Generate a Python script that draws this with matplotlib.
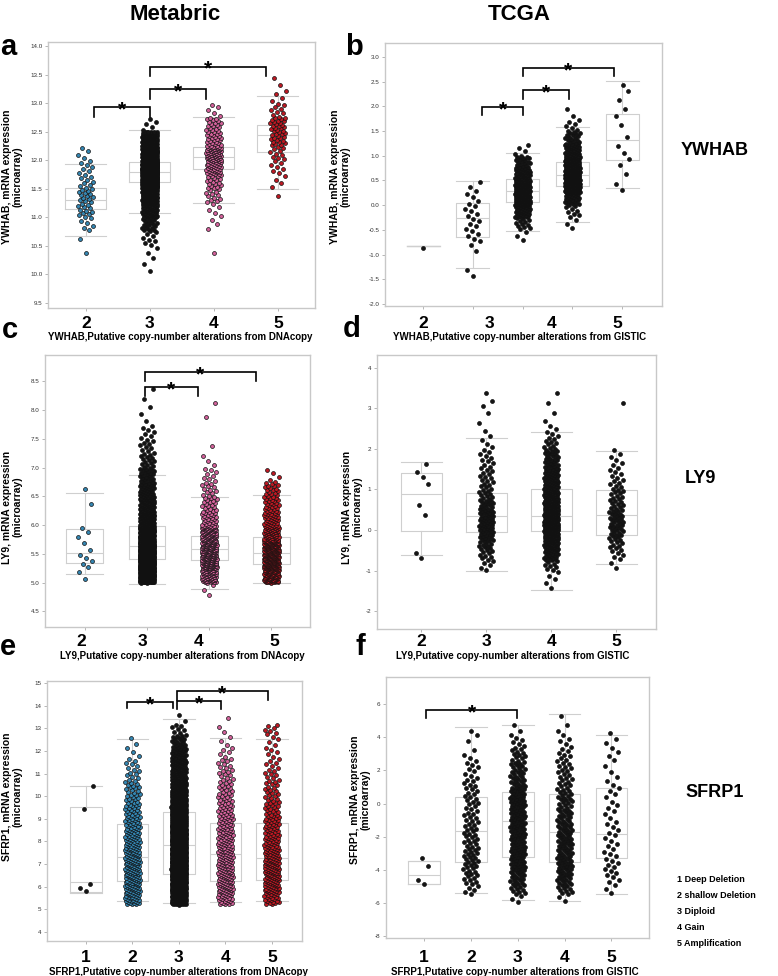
import numpy as np
import matplotlib
matplotlib.use("Agg")
import matplotlib.pyplot as plt
from matplotlib.transforms import blended_transform_factory

plt.rcParams['font.family'] = ['Liberation Sans', 'DejaVu Sans']

W, H = 778, 976

# ---------------------------------------------------------------------------
# Data.
# Box stats per group: lower whisker, Q1, median, Q3, upper whisker.
# Point counts per value bin (bin edges per panel).
# ---------------------------------------------------------------------------

# a) YWHAB - Metabric (DNAcopy)
a_groups = [2, 3, 4, 5]
a_lo = [10.68, 11.08, 11.25, 11.49]
a_q1 = [11.15, 11.62, 11.84, 12.15]
a_med = [11.30, 11.80, 12.05, 12.44]
a_q3 = [11.52, 11.97, 12.23, 12.62]
a_hi = [11.94, 12.52, 12.75, 13.13]
a_edges = np.arange(10.0, 13.51, 0.25)
a_n2 = [0, 1, 1, 6, 12, 14, 9, 7, 4, 0, 0, 0, 0, 0]
a_n3 = [2, 3, 8, 20, 50, 100, 240, 320, 150, 90, 5, 0, 0, 0]
a_n4 = [0, 1, 0, 3, 5, 12, 18, 40, 55, 25, 18, 5, 0, 0]
a_n5 = [0, 0, 0, 0, 0, 1, 4, 7, 10, 18, 20, 9, 4, 2]

# b) YWHAB - TCGA (GISTIC)
b_groups = [1, 2, 3, 4, 5]
b_lo = [-0.83, -1.28, -0.52, -0.35, 0.35]
b_q1 = [-0.83, -0.64, 0.06, 0.39, 0.91]
b_med = [-0.83, -0.27, 0.29, 0.61, 1.31]
b_q3 = [-0.83, 0.04, 0.53, 0.88, 1.85]
b_hi = [-0.83, 0.48, 1.06, 1.58, 2.52]
b_edges = np.arange(-1.5, 2.76, 0.25)
b_n1 = [0, 0, 1, 0, 0, 0, 0, 0, 0, 0, 0, 0, 0, 0, 0, 0, 0]
b_n2 = [2, 0, 2, 5, 5, 5, 4, 3, 0, 0, 0, 0, 0, 0, 0, 0, 0]
b_n3 = [0, 0, 0, 3, 12, 35, 65, 70, 45, 20, 4, 0, 0, 0, 0, 0, 0]
b_n4 = [0, 0, 0, 0, 3, 8, 25, 85, 95, 60, 35, 18, 6, 2, 0, 0, 0]
b_n5 = [0, 0, 0, 0, 0, 0, 0, 2, 1, 2, 2, 1, 1, 2, 1, 2, 0]

# c) LY9 - Metabric (DNAcopy)
c_groups = [2, 3, 4, 5]
c_lo = [5.16, 4.98, 4.89, 5.00]
c_q1 = [5.34, 5.41, 5.40, 5.33]
c_med = [5.52, 5.64, 5.58, 5.52]
c_q3 = [5.93, 5.98, 5.82, 5.80]
c_hi = [6.56, 6.87, 6.49, 6.52]
c_edges = np.arange(4.75, 8.51, 0.25)
c_n2 = [0, 2, 5, 2, 3, 0, 1, 1, 0, 0, 0, 0, 0, 0, 0]
c_n3 = [0, 160, 190, 170, 120, 70, 50, 35, 25, 14, 10, 7, 2, 2, 1]
c_n4 = [3, 60, 95, 90, 70, 28, 18, 12, 8, 3, 1, 0, 1, 1, 0]
c_n5 = [0, 85, 120, 110, 55, 35, 25, 18, 4, 0, 0, 0, 0, 0, 0]

# d) LY9 - TCGA (GISTIC)
d_groups = [2, 3, 4, 5]
d_lo = [-0.61, -1.00, -1.48, -0.84]
d_q1 = [-0.03, -0.06, -0.03, -0.13]
d_med = [0.88, 0.35, 0.35, 0.37]
d_q3 = [1.40, 0.92, 1.01, 0.98]
d_hi = [1.67, 2.27, 2.41, 1.95]
d_edges = np.arange(-1.75, 3.51, 0.25)
d_n2 = [0, 0, 0, 0, 2, 0, 0, 0, 1, 1, 0, 1, 2, 1, 0, 0, 0, 0, 0, 0, 0]
d_n3 = [0, 0, 0, 5, 8, 12, 18, 22, 20, 14, 10, 8, 7, 6, 5, 3, 2, 1, 1, 2, 1]
d_n4 = [0, 2, 3, 8, 20, 35, 45, 60, 50, 45, 38, 30, 25, 18, 14, 8, 5, 2, 1, 1, 1]
d_n5 = [0, 0, 0, 2, 5, 8, 12, 14, 14, 10, 9, 7, 5, 4, 3, 0, 0, 0, 0, 1, 0]

# e) SFRP1 - Metabric (DNAcopy)
e_groups = [1, 2, 3, 4, 5]
e_lo = [5.70, 5.37, 5.26, 5.30, 5.38]
e_q1 = [5.74, 6.26, 6.54, 6.24, 6.29]
e_med = [6.20, 7.31, 7.84, 7.44, 7.25]
e_q3 = [9.52, 8.78, 9.29, 8.80, 8.83]
e_hi = [10.47, 12.53, 13.40, 12.59, 12.52]
e_edges = np.arange(5.2, 13.71, 0.5)
e_n1 = [0, 3, 0, 0, 0, 0, 0, 0, 1, 0, 1, 0, 0, 0, 0, 0, 0]
e_n2 = [30, 35, 35, 35, 32, 28, 25, 22, 18, 14, 12, 8, 6, 3, 2, 0, 0]
e_n3 = [80, 100, 110, 130, 125, 115, 105, 95, 85, 70, 55, 45, 35, 25, 15, 8, 2]
e_n4 = [25, 33, 33, 30, 30, 27, 25, 22, 18, 15, 12, 10, 8, 5, 3, 2, 1]
e_n5 = [22, 32, 35, 35, 30, 25, 22, 20, 15, 12, 10, 8, 6, 5, 4, 7, 0]

# f) SFRP1 - TCGA (GISTIC)
f_groups = [1, 2, 3, 4, 5]
f_lo = [-4.84, -5.39, -5.83, -5.85, -5.43]
f_q1 = [-4.84, -3.50, -3.22, -3.52, -3.26]
f_med = [-4.28, -1.63, -1.07, -1.71, -1.81]
f_q3 = [-3.48, 0.40, 0.70, 0.60, 0.94]
f_hi = [-3.48, 4.59, 4.71, 5.42, 4.15]
f_edges = np.arange(-6.0, 5.51, 0.5)
f_n1 = [0, 0, 2, 0, 1, 1, 0, 0, 0, 0, 0, 0, 0, 0, 0, 0, 0, 0, 0, 0, 0, 0, 0]
f_n2 = [0, 4, 6, 7, 8, 8, 8, 7, 7, 6, 6, 5, 6, 5, 5, 4, 4, 3, 1, 1, 2, 0, 0]
f_n3 = [3, 8, 10, 12, 14, 14, 14, 14, 14, 16, 16, 16, 16, 14, 11, 10, 9, 8, 6, 4, 2, 1, 0]
f_n4 = [2, 8, 10, 12, 14, 13, 12, 12, 12, 11, 10, 9, 9, 8, 7, 6, 6, 5, 4, 3, 2, 1, 1]
f_n5 = [0, 2, 3, 4, 4, 4, 3, 3, 3, 3, 2, 3, 2, 3, 2, 2, 1, 2, 2, 2, 1, 0, 0]

legend_lines = ["1 Deep Deletion", "2 shallow Deletion", "3 Diploid", "4 Gain", "5 Amplification"]

BLUE, BLACK, PINK, RED = '#3486b2', '#141414', '#d2619a', '#bd1822'
BOXC = '#cfcfcf'

fig = plt.figure(figsize=(W / 100, H / 100), dpi=100)
fig.patch.set_facecolor('white')


def fx(x):
    return x / W


def fy(y):
    return 1 - y / H


def spread(counts, edges):
    """Place the counted points evenly inside each value bin."""
    vals = []
    for k, lo, hi in zip(counts, edges[:-1], edges[1:]):
        if k:
            vals.extend(lo + (hi - lo) * (np.arange(k) + 0.5) / k)
    return np.array(vals)


def panel(box_px, xlim, ylim, yticks, fmt, groups, lo, q1, med, q3, hi,
          edges, counts, colors, box_w, jit, brackets):
    L, T, R, B = box_px
    ax = fig.add_axes([fx(L), fy(B), (R - L) / W, (B - T) / H])
    stats = [dict(whislo=w0, q1=a, med=m, q3=b, whishi=w1, fliers=[])
             for w0, a, m, b, w1 in zip(lo, q1, med, q3, hi)]
    lp = dict(color=BOXC, lw=0.8)
    ax.bxp(stats, positions=groups, widths=box_w, capwidths=box_w,
           showfliers=False, boxprops=lp, whiskerprops=lp, capprops=lp,
           medianprops=lp, zorder=1)
    for g, n, c in zip(groups, counts, colors):
        y = spread(n, edges)
        i = np.arange(len(y))
        x = g + jit * (2 * ((0.5 + i * 0.618034) % 1) - 1)
        ax.scatter(x, y, s=8, c=c, edgecolors='#111111', linewidths=0.5, zorder=3)
    for x1, x2, top, bot in brackets:
        ax.plot([x1, x1, x2, x2], [bot, top, top, bot], color='black', lw=1.2,
                zorder=4, solid_joinstyle='miter')
        ax.annotate('*', xy=((x1 + x2) / 2, top), xytext=(0, -6),
                    textcoords='offset points', ha='center', va='baseline',
                    fontsize=15, fontweight='bold')
    ax.set_xlim(*xlim)
    ax.set_ylim(*ylim)
    ax.set_xticks(groups)
    ax.set_xticklabels([])
    ax.set_yticks(yticks)
    ax.set_yticklabels([fmt % t for t in yticks])
    ax.tick_params(length=2.5, width=0.6, color='#aaaaaa', labelsize=4.5,
                   labelcolor='#333333', pad=1.5)
    for s in ax.spines.values():
        s.set_color('#c8c8c8')
        s.set_linewidth(1.0)
    return ax


def xlabels(ax, xs, labels, ypx):
    tr = blended_transform_factory(ax.transData, fig.transFigure)
    for x, t in zip(xs, labels):
        ax.text(x, fy(ypx), t, transform=tr, ha='center', va='center',
                fontsize=12.5, fontweight='bold')


ax_a = panel((48, 42, 315, 308), (1.41, 5.58), (9.41, 14.07), np.arange(9.5, 14.01, 0.5), '%.1f',
             a_groups, a_lo, a_q1, a_med, a_q3, a_hi, a_edges,
             [a_n2, a_n3, a_n4, a_n5], [BLUE, BLACK, PINK, RED], 0.64, 0.12,
             [(2.125, 3.0, 12.93, 12.76), (3.0, 3.87, 13.24, 13.07), (3.0, 4.82, 13.64, 13.47)])
ax_b = panel((385, 43, 662, 306), (0.235, 5.80), (-2.04, 3.28), np.arange(-2.0, 3.01, 0.5), '%.1f',
             b_groups, b_lo, b_q1, b_med, b_q3, b_hi, b_edges,
             [b_n1, b_n2, b_n3, b_n4, b_n5], [BLACK] * 5, 0.66, 0.15,
             [(2.19, 3.0, 1.99, 1.83), (3.0, 3.94, 2.33, 2.15), (3.0, 4.84, 2.78, 2.62)])
ax_c = panel((45, 355, 310, 627), (1.36, 5.62), (4.23, 8.96), np.arange(4.5, 8.51, 0.5), '%.1f',
             c_groups, c_lo, c_q1, c_med, c_q3, c_hi, c_edges,
             [c_n2, c_n3, c_n4, c_n5], [BLUE, BLACK, PINK, RED], 0.59, 0.12,
             [(2.96, 3.82, 8.40, 8.25), (2.96, 4.75, 8.66, 8.50)])
ax_d = panel((377, 355, 656, 629), (1.32, 5.61), (-2.44, 4.31), np.arange(-2, 5), '%d',
             d_groups, d_lo, d_q1, d_med, d_q3, d_hi, d_edges,
             [d_n2, d_n3, d_n4, d_n5], [BLACK] * 4, 0.63, 0.11, [])
ax_e = panel((47, 681, 302, 941), (0.16, 5.65), (3.59, 15.1), np.arange(4, 16), '%d',
             e_groups, e_lo, e_q1, e_med, e_q3, e_hi, e_edges,
             [e_n1, e_n2, e_n3, e_n4, e_n5], [BLACK, BLUE, BLACK, PINK, RED], 0.68, 0.16,
             [(1.89, 2.87, 14.16, 13.92), (2.96, 3.91, 14.23, 13.85), (2.96, 4.91, 14.67, 14.28)])
ax_f = panel((386, 677, 649, 938), (0.19, 5.80), (-8.1, 7.63), np.arange(-8, 7, 2), '%d',
             f_groups, f_lo, f_q1, f_med, f_q3, f_hi, f_edges,
             [f_n1, f_n2, f_n3, f_n4, f_n5], [BLACK] * 5, 0.675, 0.16,
             [(1.04, 2.99, 5.66, 5.15)])

# big category numbers under each panel
xlabels(ax_a, [2, 3, 4, 5], ['2', '3', '4', '5'], 323)
xlabels(ax_b, [1.0, 2.34, 3.59, 4.9], ['2', '3', '4', '5'], 323)
xlabels(ax_c, [1.95, 2.93, 3.83, 5.04], ['2', '3', '4', '5'], 641)
xlabels(ax_d, [2, 3, 4, 5], ['2', '3', '4', '5'], 641)
xlabels(ax_e, [1, 2, 3, 4, 5], ['1', '2', '3', '4', '5'], 958)
xlabels(ax_f, [1, 2, 3, 4, 5], ['1', '2', '3', '4', '5'], 958)

# axis titles
xt = [("YWHAB,Putative copy-number alterations from DNAcopy", 180, 337),
      ("YWHAB,Putative copy-number alterations from GISTIC", 520, 337),
      ("LY9,Putative copy-number alterations from DNAcopy", 182, 656),
      ("LY9,Putative copy-number alterations from GISTIC", 513, 656),
      ("SFRP1,Putative copy-number alterations from DNAcopy", 178, 972),
      ("SFRP1,Putative copy-number alterations from GISTIC", 515, 972)]
for t, x, y in xt:
    fig.text(fx(x), fy(y), t, ha='center', va='center', fontsize=7, fontweight='bold')

yt = [("YWHAB", 12, 177), ("YWHAB", 340, 177), ("LY9", 12, 507),
      ("LY9", 352, 507), ("SFRP1", 12, 797), ("SFRP1", 360, 800)]
for g, x, y in yt:
    fig.text(fx(x), fy(y), g + ", mRNA expression\n(microarray)", rotation=90,
             ha='center', va='center', fontsize=7.5, fontweight='bold',
             multialignment='center', linespacing=1.05)

# column titles, panel letters, gene names
fig.text(fx(175), fy(19.5), "Metabric", ha='center', va='baseline', fontsize=16, fontweight='bold')
fig.text(fx(519), fy(19.5), "TCGA", ha='center', va='baseline', fontsize=16, fontweight='bold')
for t, x, y in [('a', 0, 55), ('b', 345, 55), ('c', 2, 338), ('d', 343, 337),
                ('e', 0, 655), ('f', 355, 655)]:
    fig.text(fx(x), fy(y), t, ha='left', va='baseline', fontsize=21, fontweight='bold')
for t, x, y in [('YWHAB', 715, 155), ('LY9', 700, 483), ('SFRP1', 715, 797)]:
    fig.text(fx(x), fy(y), t, ha='center', va='baseline', fontsize=13, fontweight='bold')

for k, t in enumerate(legend_lines):
    fig.text(fx(677), fy(879 + 16 * k), t, ha='left', va='center', fontsize=6.5, fontweight='bold')

fig.savefig('out.png', dpi=100, facecolor='white')
